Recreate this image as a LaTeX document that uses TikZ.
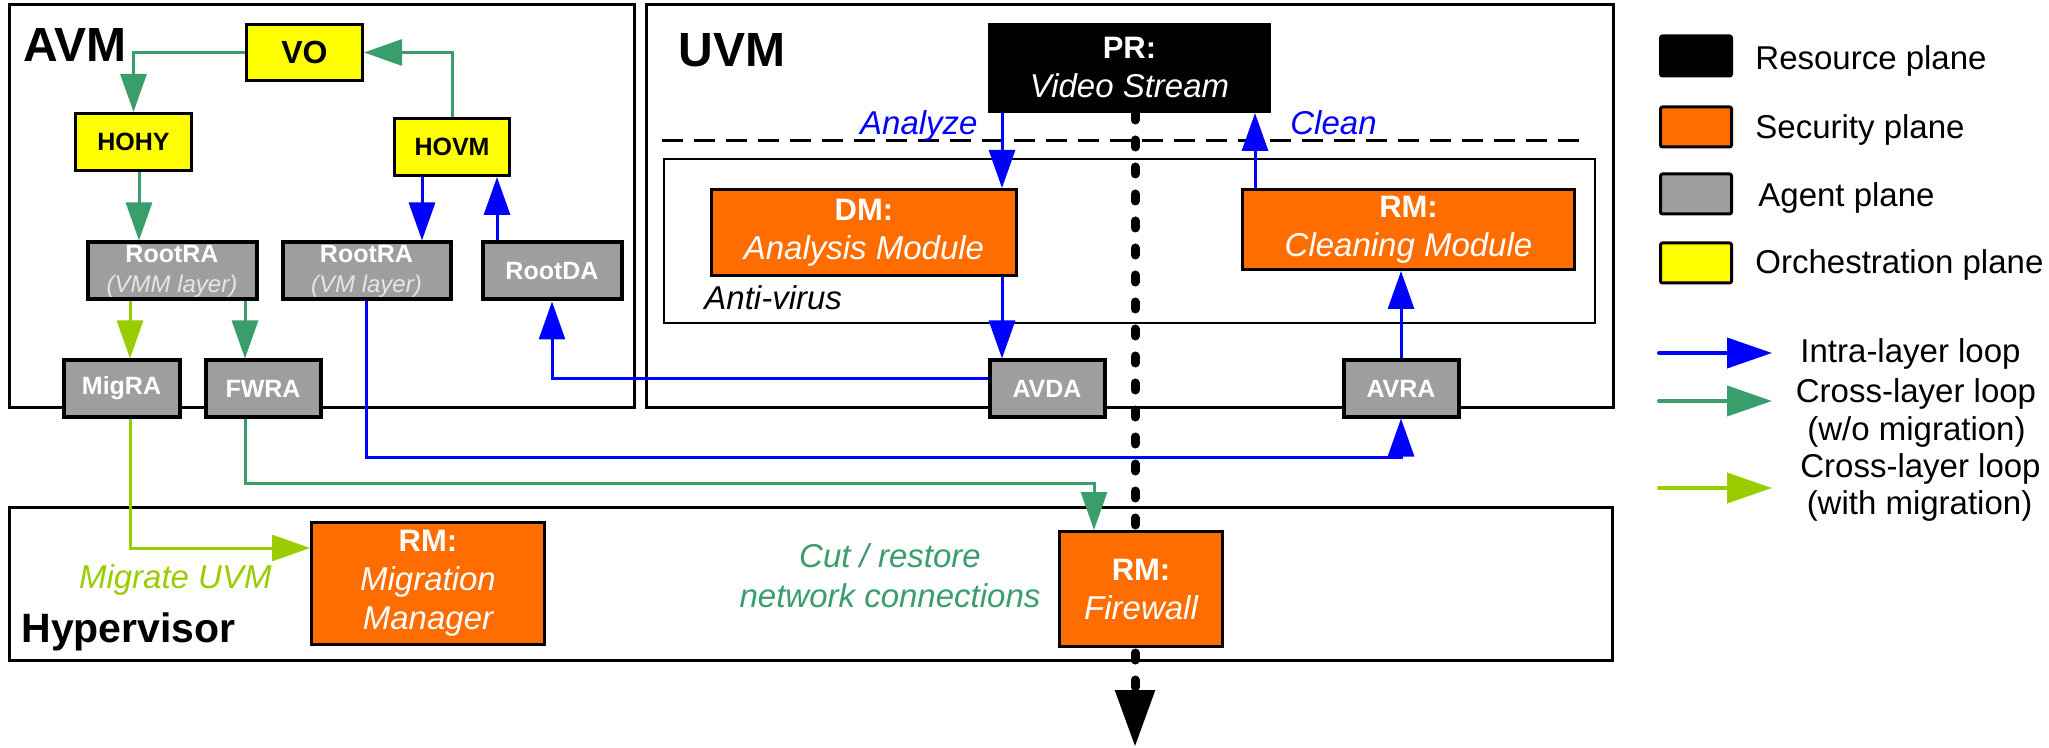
\documentclass[tikz,border=0pt]{standalone}
\usepackage{fontspec}
\setmainfont{Liberation Sans}
\usetikzlibrary{arrows.meta,calc}
\definecolor{secorange}{HTML}{FF6D00}
\definecolor{agentgray}{HTML}{9E9E9E}
\definecolor{orchyellow}{HTML}{FFFF00}
\definecolor{intrablue}{HTML}{0000FF}
\definecolor{crossgreen}{HTML}{3A9E6C}
\definecolor{migrlime}{HTML}{9ACD00}
\definecolor{layertext}{HTML}{E6E6E6}
\pgfdeclarelayer{background}
\pgfsetlayers{background,main}
\newcommand{\boxhead}[1]{{\bfseries\fontsize{15.5}{19.5}\selectfont #1}}
\begin{document}
\begin{tikzpicture}[x=0.5pt,y=-0.5pt,
  box/.style={draw=black, inner sep=0pt, align=center},
  orch/.style={box, fill=orchyellow, line width=1.5pt, font=\bfseries\fontsize{12.5}{15}\selectfont},
  agent/.style={box, fill=agentgray, line width=2pt, text=white, font=\bfseries\fontsize{12.5}{15}\selectfont},
  sec/.style={box, fill=secorange, line width=1.5pt, text=white, font=\fontsize{16.5}{19.5}\selectfont},
  res/.style={box, fill=black, line width=1.5pt, text=white, font=\fontsize{16.5}{19.5}\selectfont},
  layer/.style={draw=black, line width=1.5pt},
  paneltitle/.style={inner sep=0pt, font=\bfseries\fontsize{24}{28}\selectfont},
  remark/.style={inner sep=0pt, font=\itshape\fontsize{16.5}{19.5}\selectfont},
  legtext/.style={inner sep=0pt, font=\fontsize{16.5}{19.5}\selectfont},
  legbox/.style={draw=black, line width=1.5pt, rounded corners=1pt, minimum width=35.5pt, minimum height=20pt, inner sep=0pt},
  ctrlarrow/.style={line width=1.5pt, -{Triangle[length=19pt,width=13pt]}},
  intra/.style={ctrlarrow, color=intrablue},
  cross/.style={ctrlarrow, color=crossgreen},
  migr/.style={ctrlarrow, color=migrlime},
  legarrow/.style={line width=2pt, line cap=round, -{Triangle[length=22.5pt,width=15pt]}},
  flow/.style={line width=4.5pt, line cap=round, dash pattern=on 3.5pt off 10pt, -{Triangle[length=28.5pt,width=19pt]}}
]
\useasboundingbox (0,0) rectangle (2049,748);

% ---------- AVM: orchestration and agents ----------
\node[orch, minimum width=58pt, minimum height=28pt, font=\bfseries\fontsize{16}{19}\selectfont] (vo) at (304.5,52.5) {VO};
\node[orch, minimum width=58pt, minimum height=28.5pt] (hohy) at (133.5,142) {HOHY};
\node[orch, minimum width=57.5pt, minimum height=28.5pt] (hovm) at (452,147) {HOVM};
\node[agent, minimum width=84.5pt, minimum height=28.5pt] (rravmm) at (172,271)
  {RootRA\\{\mdseries\itshape\fontsize{12}{15}\selectfont\color{layertext}(VMM layer)}};
\node[agent, minimum width=84pt, minimum height=28.5pt] (rravm) at (366.5,271)
  {RootRA\\{\mdseries\itshape\fontsize{12}{15}\selectfont\color{layertext}(VM layer)}};
\node[agent, minimum width=69.5pt, minimum height=28.5pt] (rootda) at (552,271) {RootDA};
\node[agent, minimum width=58pt, minimum height=28pt] (migra) at (121.5,388.5) {MigRA};
\node[agent, minimum width=57.5pt, minimum height=28pt] (fwra) at (263,388.5) {FWRA};

% ---------- UVM ----------
\node[res, minimum width=140pt, minimum height=43.5pt] (pr) at (1129.5,68)
  {\boxhead{PR:}\\{\itshape Video Stream}};
\node[sec, minimum width=152.5pt, minimum height=43pt] (dm) at (864,232.5)
  {\boxhead{DM:}\\{\itshape Analysis Module}};
\node[sec, minimum width=166pt, minimum height=40pt] (rmclean) at (1408.5,229.5)
  {\boxhead{RM:}\\{\itshape Cleaning Module}};
\node[agent, minimum width=57.5pt, minimum height=28pt] (avda) at (1047,388.5) {AVDA};
\node[agent, minimum width=57.5pt, minimum height=28pt] (avra) at (1401,388.5) {AVRA};

% ---------- Hypervisor ----------
\node[sec, minimum width=116.5pt, minimum height=61pt] (rmmig) at (428,583.5)
  {\boxhead{RM:}\\{\itshape Migration}\\{\itshape Manager}};
\node[sec, minimum width=81.5pt, minimum height=57.5pt] (rmfw) at (1141,589)
  {\boxhead{RM:}\\{\itshape Firewall}};

% ---------- panel titles and notes ----------
\node[paneltitle, anchor=base west] (tavm) at (23,62) {AVM};
\node[paneltitle, anchor=base west] (tuvm) at (678,67) {UVM};
\node[paneltitle, font=\bfseries\fontsize{20.5}{24}\selectfont, anchor=base west] (thv) at (21,642) {Hypervisor};
\node[remark, anchor=base west] (lav) at (704,310) {Anti-virus};
\node[remark, text=intrablue, anchor=base east] (lanalyze) at (978,135) {Analyze};
\node[remark, text=intrablue, anchor=base west] (lclean) at (1290,135) {Clean};
\node[remark, text=migrlime, anchor=base east] (lmig) at (272,588) {Migrate UVM};
\node[remark, text=crossgreen, anchor=base] (lcut1) at (890,567) {Cut / restore};
\node[remark, text=crossgreen, anchor=base] (lcut2) at (890,607) {network connections};

% ---------- connector attachment points ----------
\coordinate (h1) at ([xshift=2.75pt]hohy.south);
\coordinate (h2) at ([xshift=-15pt]hovm.south);
\coordinate (h3) at ([xshift=-27.5pt]rootda.north);
\coordinate (h4) at ([xshift=-21pt]rravmm.south);
\coordinate (h5) at ([xshift=36.5pt]rravmm.south);
\coordinate (h6) at ([yshift=4.75pt]avda.west);
\coordinate (h8) at ([xshift=-23.5pt]rmfw.north);
\coordinate (h9) at ([yshift=17.75pt]rmmig.west);
\coordinate (h10) at ([xshift=-63.75pt]pr.south);
\coordinate (h11) at ([xshift=-76.75pt]rmclean.north);
\coordinate (busA) at (0,457);
\coordinate (busB) at (0,483);
\coordinate (flowend) at (1135,747);

% ---------- control loops ----------
\draw[cross] (vo.west) -| (hohy.north);
\draw[cross] (hovm.north) |- (vo.east);
\draw[cross] (h1) -- (h1 |- rravmm.north);
\draw[intra] (h2) -- (h2 |- rravm.north);
\draw[intra] (h3) -- (h3 |- hovm.south);
\draw[migr] (h4) -- (h4 |- migra.north);
\draw[cross] (h5) -- (h5 |- fwra.north);
\draw[intra] (rravm.south) -- (rravm.south |- busA) -| (avra.south);
\draw[intra] (h6) -| (rootda.south);
\draw[cross] (h5 |- fwra.south) -- (h5 |- busB) -| (h8);
\draw[migr] (h4 |- migra.south) |- (h9);
\draw[intra] (h10) -- (h10 |- dm.north);
\draw[intra] (h10 |- dm.south) -- (h10 |- avda.north);
\draw[intra] (h11) -- (h11 |- pr.south);
\draw[intra] (avra.north) -- (avra.north |- rmclean.south);

% ---------- legend ----------
\node[legbox, fill=black] (kres) at (1696,56) {};
\node[legtext, anchor=base west] (tres) at (1755,70) {Resource plane};
\node[legbox, fill=secorange] (ksec) at (1696,127) {};
\node[legtext, anchor=base west] (tsec) at (1755,139) {Security plane};
\node[legbox, fill=agentgray] (kag) at (1696,194) {};
\node[legtext, anchor=base west] (tag) at (1758,207) {Agent plane};
\node[legbox, fill=orchyellow] (korch) at (1696,263) {};
\node[legtext, anchor=base west] (torch) at (1755,274) {Orchestration plane};

\coordinate (la1) at (1659,353); \coordinate (la2) at (1772,353);
\coordinate (lb1) at (1659,401); \coordinate (lb2) at (1772,401);
\coordinate (lc1) at (1659,488); \coordinate (lc2) at (1772,488);
\draw[legarrow, color=intrablue] (la1) -- (la2);
\draw[legarrow, color=crossgreen] (lb1) -- (lb2);
\draw[legarrow, color=migrlime] (lc1) -- (lc2);
\node[legtext, anchor=base] (tintra) at (1910.5,363) {Intra-layer loop};
\node[legtext, anchor=base] (tcross1) at (1916,402) {Cross-layer loop};
\node[legtext, anchor=base] (tcross2) at (1916.5,440) {(w/o migration)};
\node[legtext, anchor=base] (tmig1) at (1920.5,477) {Cross-layer loop};
\node[legtext, anchor=base] (tmig2) at (1919.5,514) {(with migration)};

% ---------- layer frames and data path, behind the boxes ----------
\begin{pgfonlayer}{background}
  \fill[white] (0,0) rectangle (2049,748);
  \draw[layer] (9,5) rectangle (634,407);
  \draw[layer] (646,5) rectangle (1613,407);
  \draw[layer] (9,507) rectangle (1612,660);
  \draw[draw=black, line width=1.25pt] (664,159) rectangle (1595,323);
  \draw[line width=1.5pt, dash pattern=on 10.5pt off 5.5pt] (662,141) -- (1584,141);
  \draw[flow] (pr.south -| flowend) -- (flowend);
\end{pgfonlayer}
\end{tikzpicture}
\end{document}
